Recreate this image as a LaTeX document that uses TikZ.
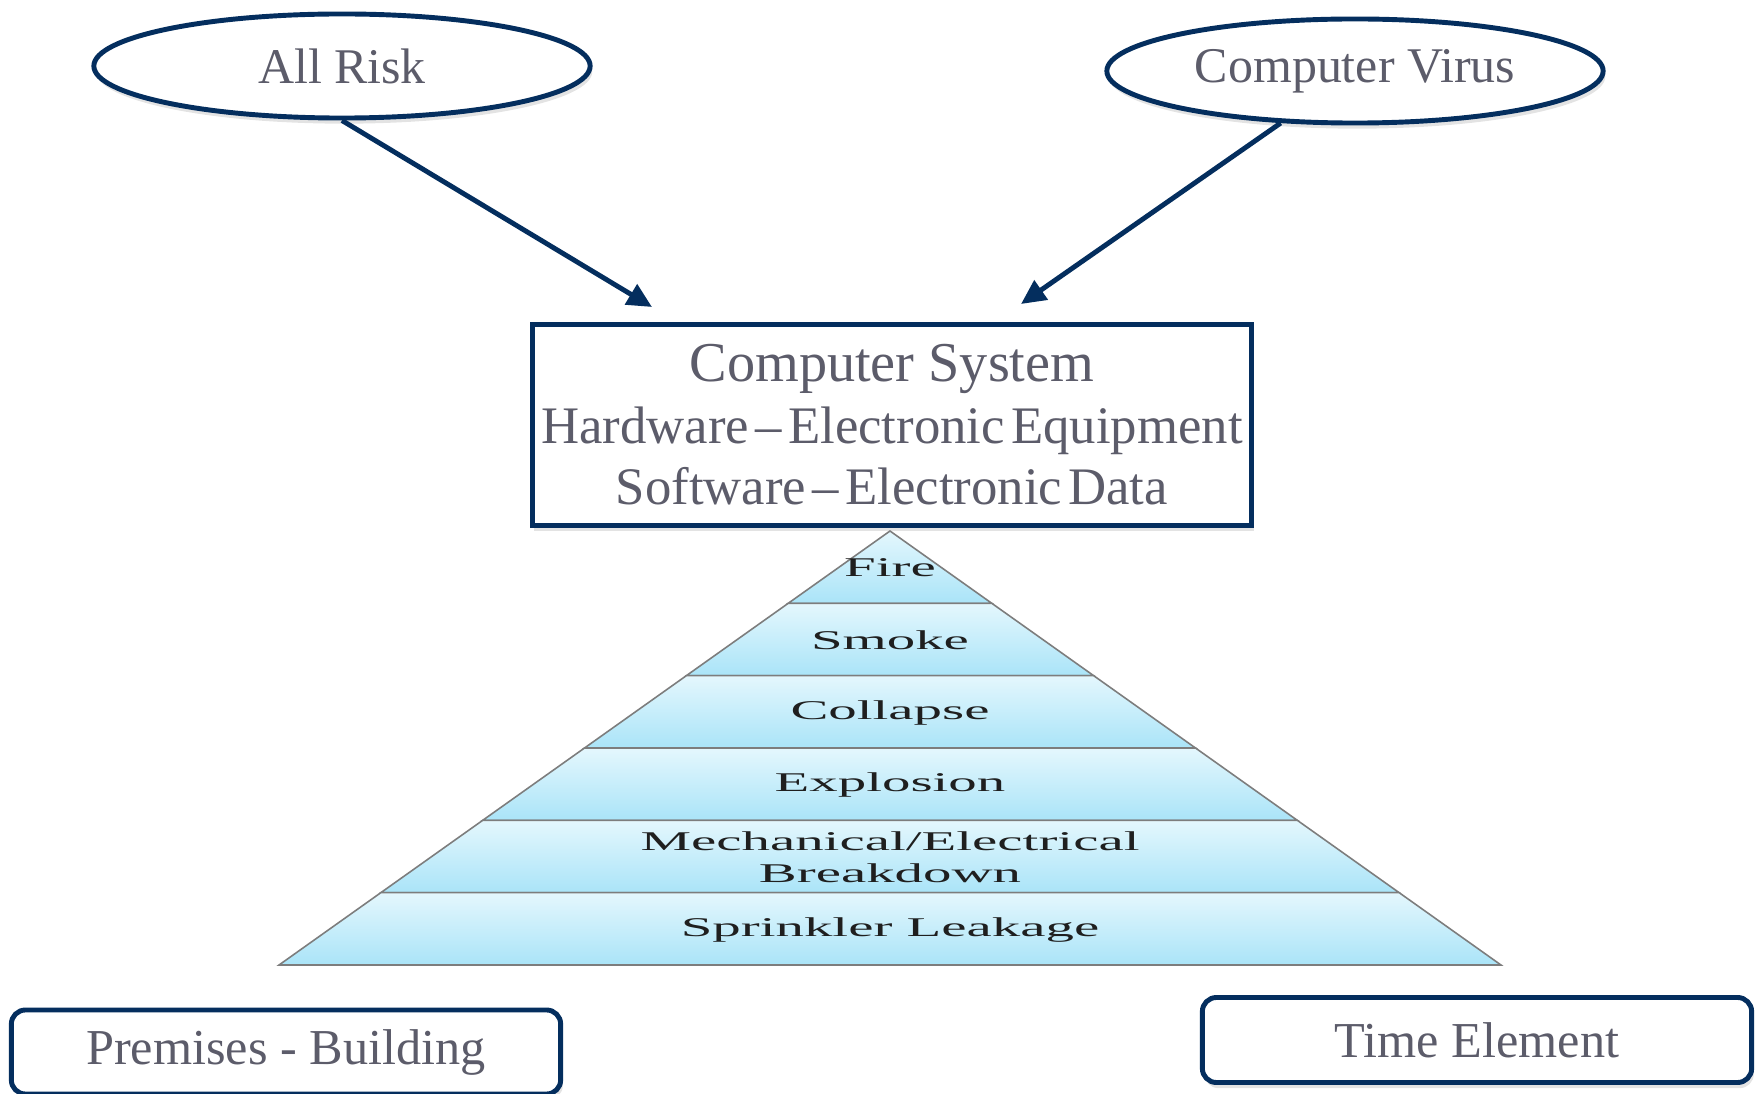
\documentclass[tikz,border=0pt]{standalone}
\usepackage{fontspec}
\setmainfont{Liberation Serif}
\usepackage{graphicx}
\usetikzlibrary{arrows.meta, shadows, shapes.geometric}

\definecolor{navy}{RGB}{4,46,94}
\definecolor{inkgray}{RGB}{92,92,106}
\definecolor{bandtop}{RGB}{228,247,253}
\definecolor{bandbot}{RGB}{170,228,248}
\definecolor{pyrline}{RGB}{125,125,125}

\newcommand{\widetext}[1]{\scalebox{2.1}[1]{#1}}
\newcommand{\tsp}{\hspace{0.12em}}

\tikzset{
  softshadow/.style={drop shadow={opacity=0.22, shadow xshift=0.6pt, shadow yshift=-1.6pt}},
  oval/.style={ellipse, draw=navy, line width=1.4pt, fill=white, softshadow,
    minimum width=4.96cm, minimum height=1.04cm, inner sep=0pt,
    text=inkgray, font=\fontsize{14.2}{17}\selectfont},
  sysbox/.style={rectangle, draw=navy, line width=1.4pt, fill=white, softshadow,
    minimum width=7.19cm, minimum height=2.01cm, inner sep=0pt, align=center,
    text=inkgray, font=\fontsize{15}{17.5}\selectfont},
  tagbox/.style={rectangle, rounded corners=4pt, draw=navy, line width=1.4pt,
    fill=white, softshadow, minimum width=5.49cm, inner sep=0pt,
    text=inkgray, font=\fontsize{14.3}{17}\selectfont},
  pointer/.style={draw=navy, line width=1.4pt, -{Triangle[length=7pt,width=6.5pt]}},
  level/.style={font=\fontsize{7.7}{9}\selectfont, text=black!88, align=center, inner sep=0pt}
}

\begin{document}
\begin{tikzpicture}[x=0.01cm, y=-0.01cm]
\useasboundingbox (0,0) rectangle (1763,1094);

% pyramid of perils
\foreach \lbl [count=\i from 0] in {\widetext{Fire}, \widetext{Smoke}, \widetext{Collapse},
    \widetext{Explosion}, {\widetext{Mechanical/Electrical}\\\widetext{Breakdown}},
    \widetext{Sprinkler Leakage}}
{
  \pgfmathsetmacro{\ya}{531+72.33*\i}
  \pgfmathsetmacro{\yb}{\ya+72.33}
  \pgfmathsetmacro{\wa}{(\ya-531)*1.4078}
  \pgfmathsetmacro{\wb}{(\yb-531)*1.4078}
  \shadedraw[top color=bandtop, bottom color=bandbot, draw=pyrline, line width=0.45pt]
    (890-\wa,\ya) -- (890+\wa,\ya) -- (890+\wb,\yb) -- (890-\wb,\yb) -- cycle;
  \node[level] (lvl\i) at (890,\ya+37) {\lbl};
}

% causes
\node[oval] (allrisk) at (342,66) {All Risk};
\node[oval] (virus) at (1355,71) {\raisebox{-2pt}{Computer Virus}};

% the insured system
\node[sysbox] (system) at (892,425)
  {{\fontsize{16}{17.5}\selectfont Computer System}\\
   Hardware\tsp–\tsp Electronic\tsp Equipment\\
   Software\tsp–\tsp Electronic\tsp Data};

\coordinate (hitA) at (652,307);
\coordinate (hitB) at (1021,304);
\draw[pointer] (allrisk.south) -- (hitA);
\draw[pointer] (virus.215) -- (hitB);

% other covers
\node[tagbox, minimum height=0.84cm] (premises) at (286,1052) {\raisebox{-3pt}{Premises - Building}};
\node[tagbox, minimum height=0.85cm] (timeel) at (1477,1040) {Time Element};

\end{tikzpicture}
\end{document}
